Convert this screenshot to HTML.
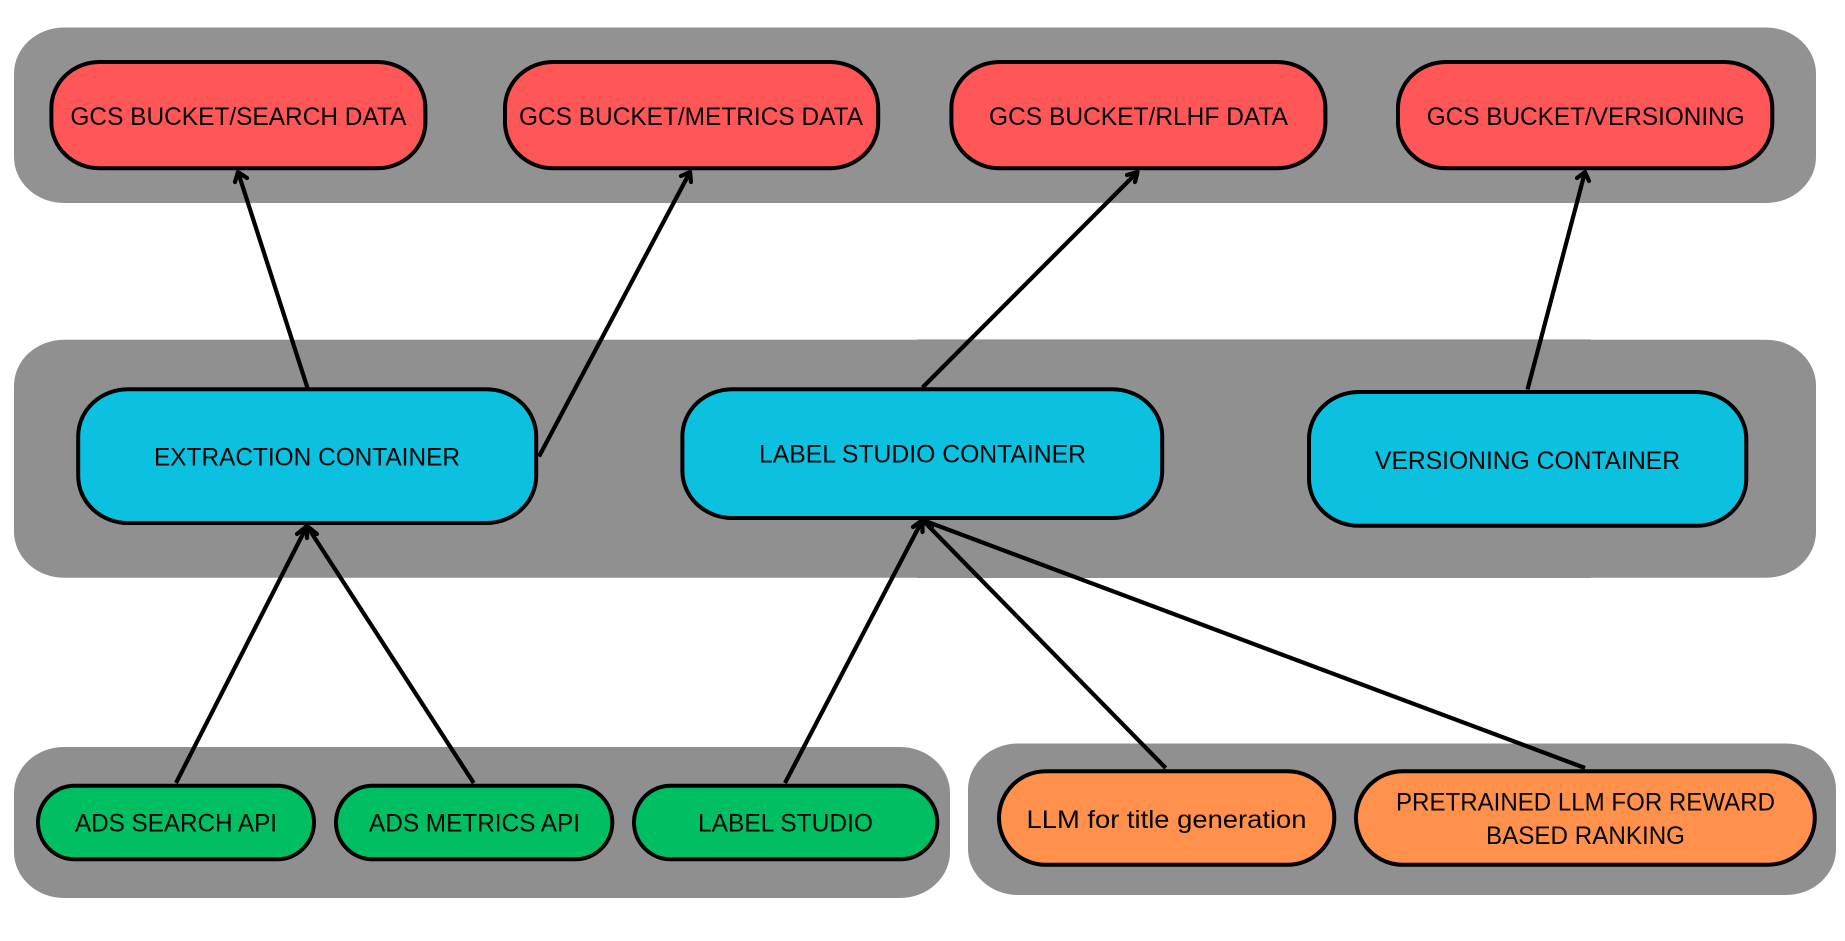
<!DOCTYPE html>
<html lang="en">
<head>
<meta charset="utf-8">
<title>Architecture diagram</title>
<style>
html,body{margin:0;padding:0;background:#fff;width:1845px;height:941px;overflow:hidden}
svg{display:block}
text{font-family:"Liberation Sans",sans-serif;font-size:25px;fill:#050505;text-anchor:start}
.n{stroke:#000;stroke-width:4}
.l{stroke:#000;stroke-width:4.2;fill:none;stroke-linecap:butt}
.h{stroke:#000;stroke-width:4.2;fill:none;stroke-linecap:round;stroke-linejoin:round}
</style>
</head>
<body>
<svg width="1845" height="941" viewBox="0 0 1845 941" xmlns="http://www.w3.org/2000/svg">
<rect width="1845" height="941" fill="#fff"/>

<!-- groups -->
<rect x="14" y="27.5" width="1802" height="175.5" rx="50" ry="46" fill="#929292"/>
<rect x="14" y="339.7" width="1802" height="238" rx="50" ry="46" fill="#909090"/>
<rect x="917" y="339.4" width="674" height="238.6" fill="#909090"/>
<rect x="14" y="747" width="936" height="151" rx="50" ry="46" fill="#8f8f8f"/>
<rect x="968" y="743.5" width="868" height="151.5" rx="50" ry="46" fill="#909090"/>

<!-- red nodes -->
<rect class="n" x="51.4" y="62" width="374" height="106.2" rx="48" ry="46" fill="#ff5757"/>
<rect class="n" x="505" y="62" width="373.2" height="106.2" rx="48" ry="46" fill="#ff5757"/>
<rect class="n" x="951.4" y="62" width="374" height="106.2" rx="48" ry="46" fill="#ff5757"/>
<rect class="n" x="1398" y="62" width="374.3" height="106.2" rx="48" ry="46" fill="#ff5757"/>

<!-- blue nodes -->
<rect class="n" x="78.2" y="389.2" width="458" height="133.8" rx="50" ry="47" fill="#0cc0df"/>
<rect class="n" x="682.4" y="389.2" width="479.8" height="128.8" rx="50" ry="47" fill="#0cc0df"/>
<rect class="n" x="1309" y="392" width="437.3" height="133.8" rx="50" ry="47" fill="#0cc0df"/>

<!-- green nodes -->
<rect class="n" x="38" y="785.7" width="276" height="73.6" rx="36.8" ry="36.8" fill="#00bf63"/>
<rect class="n" x="336" y="785.7" width="276.3" height="73.6" rx="36.8" ry="36.8" fill="#00bf63"/>
<rect class="n" x="634" y="785.7" width="303.3" height="73.6" rx="36.8" ry="36.8" fill="#00bf63"/>

<!-- orange nodes -->
<rect class="n" x="999" y="771.2" width="335.3" height="93.6" rx="46.8" ry="46.8" fill="#ff914d"/>
<rect class="n" x="1356" y="771.2" width="458.8" height="93.6" rx="46.8" ry="46.8" fill="#ff914d"/>

<!-- labels -->
<text x="70.4" y="125" textLength="336" lengthAdjust="spacingAndGlyphs">GCS BUCKET/SEARCH DATA</text>
<text x="519" y="125" textLength="344" lengthAdjust="spacingAndGlyphs">GCS BUCKET/METRICS DATA</text>
<text x="989" y="125" textLength="299" lengthAdjust="spacingAndGlyphs">GCS BUCKET/RLHF DATA</text>
<text x="1426.7" y="125" textLength="318" lengthAdjust="spacingAndGlyphs">GCS BUCKET/VERSIONING</text>
<text x="154" y="465.7" textLength="306" lengthAdjust="spacingAndGlyphs">EXTRACTION CONTAINER</text>
<text x="759" y="462.5" textLength="327" lengthAdjust="spacingAndGlyphs">LABEL STUDIO CONTAINER</text>
<text x="1375" y="469" textLength="305" lengthAdjust="spacingAndGlyphs">VERSIONING CONTAINER</text>
<text x="75" y="831.7" textLength="202" lengthAdjust="spacingAndGlyphs">ADS SEARCH API</text>
<text x="369" y="831.7" textLength="211" lengthAdjust="spacingAndGlyphs">ADS METRICS API</text>
<text x="698" y="831.7" textLength="175" lengthAdjust="spacingAndGlyphs">LABEL STUDIO</text>
<text x="1026.5" y="828" textLength="280" lengthAdjust="spacingAndGlyphs">LLM for title generation</text>
<text x="1396" y="810.7" textLength="379" lengthAdjust="spacingAndGlyphs">PRETRAINED LLM FOR REWARD</text>
<text x="1486" y="844" textLength="199" lengthAdjust="spacingAndGlyphs">BASED RANKING</text>

<!-- connector lines -->
<line class="l" x1="307.5" y1="388" x2="238" y2="172"/>
<line class="l" x1="539" y1="456.5" x2="690" y2="172"/>
<line class="l" x1="922.5" y1="387.5" x2="1137.5" y2="172"/>
<line class="l" x1="1527.5" y1="389.5" x2="1585" y2="172"/>
<line class="l" x1="176" y1="783" x2="307" y2="526"/>
<line class="l" x1="473.7" y1="783" x2="307" y2="526"/>
<line class="l" x1="785" y1="783" x2="922.5" y2="520"/>
<line class="l" x1="1165.7" y1="768" x2="922.5" y2="520"/>
<line class="l" x1="1585" y1="768" x2="922.5" y2="520"/>

<!-- arrowheads -->
<polyline class="h" points="235,182 238,172 247,178"/>
<polyline class="h" points="681,176 690,172 691,182"/>
<polyline class="h" points="1127,175 1137.5,172 1135,182"/>
<polyline class="h" points="1577,178 1585,172 1589,181"/>
<polyline class="h" points="297,534 307,526 317,534"/>
<polyline class="h" points="913,527 922.5,520 932,527"/>
<line class="h" x1="307" y1="528" x2="307" y2="538"/>
<line class="h" x1="922.5" y1="522" x2="922.5" y2="532"/>
</svg>
</body>
</html>
